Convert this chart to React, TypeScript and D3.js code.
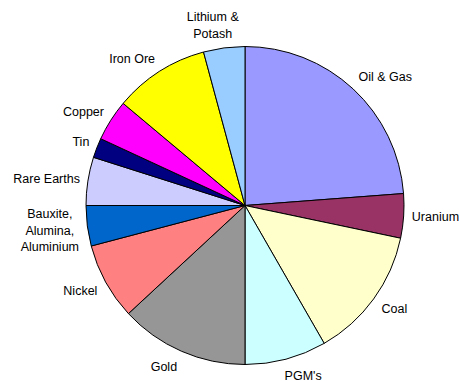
import React, { useEffect, useRef } from "react";
import * as d3 from "d3";

const categories = [
  "Oil & Gas", "Uranium", "Coal", "PGM's", "Gold", "Nickel",
  "Bauxite,\nAlumina,\nAluminium", "Rare Earths", "Tin", "Copper", "Iron Ore", "Lithium &\nPotash",
];
const values = [23.8, 4.5, 13.4, 8.3, 13.1, 7.8, 4.1, 4.9, 2.0, 4.2, 9.7, 4.2];
const colors = [
  "#9999FF", "#993366", "#FFFFCC", "#CCFFFF", "#969696", "#FF8080",
  "#0066CC", "#CCCCFF", "#000080", "#FF00FF", "#FFFF00", "#99CCFF",
];

const W = 459;
const H = 381;

export default function App() {
  const ref = useRef<SVGSVGElement | null>(null);

  useEffect(() => {
    document.body.style.margin = "0";
    const svg = d3.select(ref.current);
    svg.selectAll("*").remove();

    const cx = 245;
    const cy = 205.5;
    const r = 159;
    const fs = 12.5;
    const lh = 16.5;

    const data = categories.map((c, i) => ({ label: c, value: values[i], color: colors[i] }));
    const pie = d3.pie<any>().value((d: any) => d.value).sort(null).startAngle(0).endAngle(2 * Math.PI);
    const arcs = pie(data);
    const arc = d3.arc<any>().innerRadius(0).outerRadius(r);

    const g = svg.append("g").attr("transform", `translate(${cx},${cy})`);
    g.selectAll("path")
      .data(arcs)
      .join("path")
      .attr("d", arc as any)
      .attr("fill", (d: any) => d.data.color)
      .attr("stroke", "#000")
      .attr("stroke-width", 1)
      .attr("stroke-linejoin", "round");

    const clamp = (v: number) => Math.max(-1, Math.min(1, v));
    arcs.forEach((a: any) => {
      const mid = (a.startAngle + a.endAngle) / 2;
      const s = Math.sin(mid);
      const c = Math.cos(mid);
      const rr = r + 8 + 3 * Math.max(0, -c);
      const px = cx + rr * s;
      const py = cy - rr * c;
      const lines = a.data.label.split("\n");
      const t = svg.append("text")
        .attr("font-family", "'Liberation Sans', Arial, sans-serif")
        .attr("font-size", fs)
        .attr("fill", "#000")
        .attr("text-anchor", "middle");
      lines.forEach((ln: string, i: number) => {
        t.append("tspan").attr("data-i", i).text(ln);
      });
      let w = 0;
      t.selectAll("tspan").each(function () {
        w = Math.max(w, (this as SVGTSpanElement).getComputedTextLength());
      });
      const h = fs + (lines.length - 1) * lh;
      const left = px - (w / 2) * (1 - clamp(s * 3));
      const top = py - (h / 2) * (1 + clamp(c * 1.3));
      const centerX = left + w / 2;
      t.selectAll("tspan")
        .attr("x", centerX)
        .attr("y", (_: any, i: number) => top + fs / 2 + i * lh)
        .attr("dominant-baseline", "central");
    });
  }, []);

  return <svg ref={ref} width={W} height={H} style={{ display: "block", background: "#fff" }} />;
}
